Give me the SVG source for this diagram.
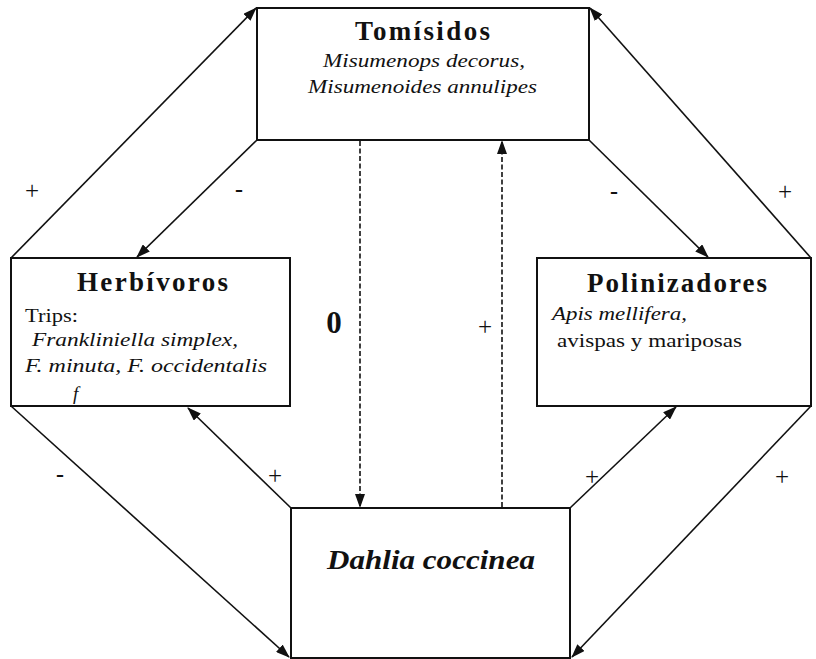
<svg xmlns="http://www.w3.org/2000/svg" width="816" height="659" viewBox="0 0 816 659">
<style>
.box{fill:#fff;stroke:#111;stroke-width:2}
.ln{stroke:#111;stroke-width:1.6;fill:none}
.dash{stroke:#111;stroke-width:1.6;fill:none;stroke-dasharray:5,2.5}
text{font-family:"Liberation Serif","Times New Roman",serif;fill:#111}
.ttl{font-size:27px;font-weight:bold}
.it{font-size:19px;font-style:italic}
.rg{font-size:19px}
.sg{font-size:25px}
.mn{font-size:24px;font-weight:bold}
</style>
<defs>
<marker id="ah" viewBox="0 0 14 10" refX="13" refY="5" markerWidth="14" markerHeight="10" markerUnits="userSpaceOnUse" orient="auto">
<path d="M0,0 L14,5 L0,10 Z" fill="#111"/>
</marker>
</defs>
<rect width="816" height="659" fill="#fff"/>
<g id="connectors">
<line class="ln" x1="11" y1="258" x2="256" y2="8" marker-end="url(#ah)"/>
<line class="ln" x1="257" y1="140" x2="137" y2="257" marker-end="url(#ah)"/>
<line class="ln" x1="589" y1="140" x2="708" y2="257" marker-end="url(#ah)"/>
<line class="ln" x1="811" y1="258" x2="590" y2="8" marker-end="url(#ah)"/>
<line class="ln" x1="11" y1="406" x2="289" y2="657" marker-end="url(#ah)"/>
<line class="ln" x1="291" y1="508" x2="188" y2="408" marker-end="url(#ah)"/>
<line class="ln" x1="570" y1="508" x2="676" y2="407" marker-end="url(#ah)"/>
<line class="ln" x1="811" y1="406" x2="572" y2="657" marker-end="url(#ah)"/>
<line class="dash" x1="360" y1="141" x2="360" y2="507" marker-end="url(#ah)"/>
<line class="dash" x1="502" y1="507" x2="502" y2="141" marker-end="url(#ah)"/>
<text class="sg" x="32" y="199" text-anchor="middle">+</text>
<text class="mn" x="239" y="197" text-anchor="middle">-</text>
<text class="mn" x="614" y="199" text-anchor="middle">-</text>
<text class="sg" x="785" y="200" text-anchor="middle">+</text>
<text x="334" y="333" text-anchor="middle" style="font-size:31px;font-weight:bold">0</text>
<text class="sg" x="485" y="335" text-anchor="middle">+</text>
<text class="mn" x="60" y="482" text-anchor="middle">-</text>
<text class="sg" x="275" y="484" text-anchor="middle">+</text>
<text class="sg" x="592" y="485" text-anchor="middle">+</text>
<text class="sg" x="782" y="485" text-anchor="middle">+</text>
</g>
<g id="tomisidos">
<rect class="box" x="257" y="8" width="332" height="132"/>
<text class="ttl" x="355" y="40" textLength="135" lengthAdjust="spacing">Tomísidos</text>
<text class="it" x="323" y="67" textLength="202" lengthAdjust="spacingAndGlyphs">Misumenops decorus,</text>
<text class="it" x="308" y="93" textLength="229" lengthAdjust="spacingAndGlyphs">Misumenoides annulipes</text>
</g>
<g id="herbivoros">
<rect class="box" x="11" y="258" width="279" height="148"/>
<text class="ttl" x="77" y="291" textLength="151" lengthAdjust="spacing">Herbívoros</text>
<text class="rg" x="25" y="322" textLength="53" lengthAdjust="spacingAndGlyphs">Trips:</text>
<text class="it" x="32" y="346" textLength="206" lengthAdjust="spacingAndGlyphs">Frankliniella simplex,</text>
<text class="it" x="25" y="372" textLength="242" lengthAdjust="spacingAndGlyphs">F. minuta, F. occidentalis</text>
<text class="it" x="73" y="400">f</text>
</g>
<g id="polinizadores">
<rect class="box" x="537" y="258" width="274" height="148"/>
<text class="ttl" x="587" y="292" textLength="180" lengthAdjust="spacing">Polinizadores</text>
<text class="it" x="552" y="320" textLength="135" lengthAdjust="spacingAndGlyphs">Apis mellifera,</text>
<text class="rg" x="557" y="347" textLength="185" lengthAdjust="spacingAndGlyphs">avispas y mariposas</text>
</g>
<g id="dahlia">
<rect class="box" x="291" y="508" width="279" height="150"/>
<text class="ttl" x="327" y="569" textLength="208" lengthAdjust="spacingAndGlyphs" style="font-style:italic">Dahlia coccinea</text>
</g>
</svg>
